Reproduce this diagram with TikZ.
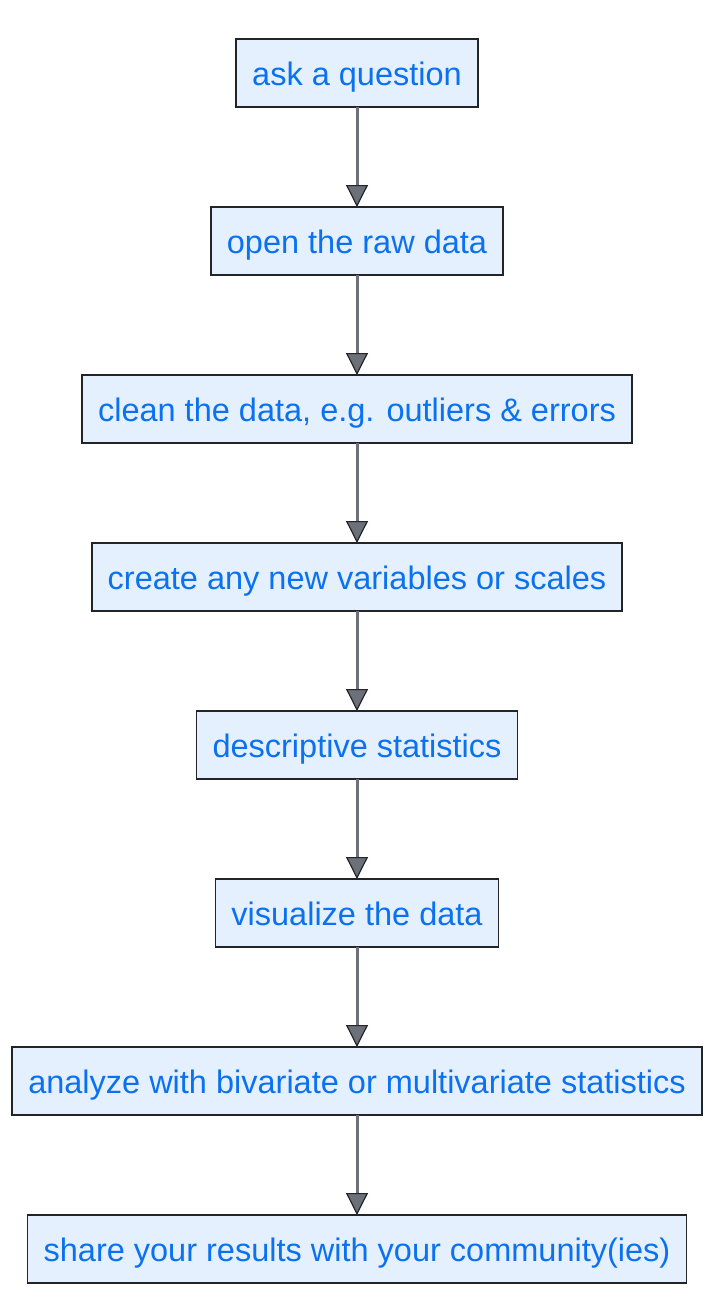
\documentclass[tikz,border=0pt]{standalone}
\usepackage{fontspec}
\setmainfont{Liberation Sans}
\usetikzlibrary{positioning,arrows.meta}

\definecolor{boxfill}{HTML}{E4F0FD}
\definecolor{boxline}{HTML}{222428}
\definecolor{steptext}{HTML}{0A72F0}
\definecolor{arrowgray}{HTML}{6B7079}

\tikzset{
    stepbox/.style={draw=boxline, line width=1.6pt, fill=boxfill, text=steptext,
        font=\fontsize{32.5}{36}\selectfont, minimum height=68pt, inner xsep=16pt,
        text height=26pt, text depth=2pt, outer sep=0pt},
    flow/.style={draw=arrowgray, line width=3pt,
        -{Triangle[width=22pt,length=22pt,fill=arrowgray,color=boxline,line width=1.2pt]}}
}

\begin{document}
\begin{tikzpicture}[x=1pt, y=1pt, node distance=100pt]
    % Fix the page to the reference size
    \useasboundingbox (0,0) rectangle (724,-1312);

    % The steps, top to bottom
    \node[stepbox] (ask) at (357,-73) {ask a question};
    \node[stepbox, below=of ask] (rawdata) {open the raw data};
    \node[stepbox, below=of rawdata] (clean) {clean the data, e.g. outliers \& errors};
    \node[stepbox, below=of clean] (newvars) {create any new variables or scales};
    \node[stepbox, below=of newvars] (descstats) {descriptive statistics};
    \node[stepbox, below=of descstats] (visualize) {visualize the data};
    \node[stepbox, below=of visualize] (analyze) {analyze with bivariate or multivariate statistics};
    \node[stepbox, below=of analyze] (share) {share your results with your community(ies)};

    % Connect each step to the next one
    \foreach \from/\to in {ask/rawdata, rawdata/clean, clean/newvars, newvars/descstats,
        descstats/visualize, visualize/analyze, analyze/share} {
        \draw[flow] (\from) -- (\to);
    }
\end{tikzpicture}
\end{document}
